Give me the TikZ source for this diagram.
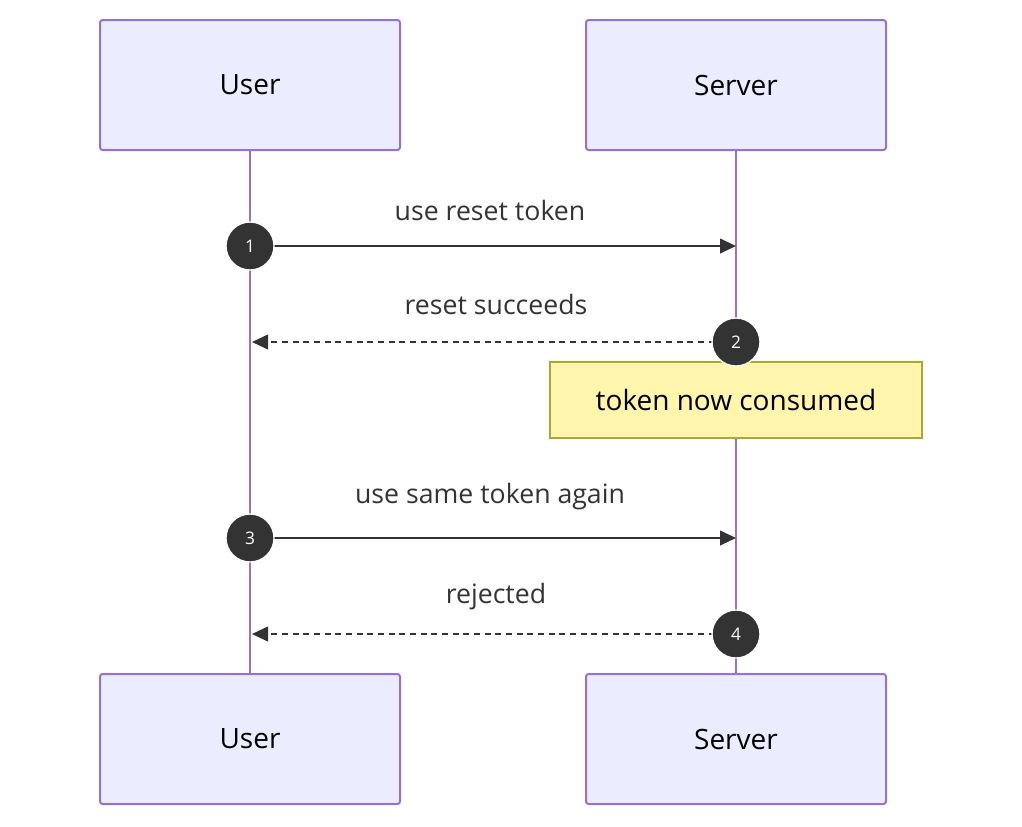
\documentclass[tikz,border=0pt]{standalone}
\usepackage{fontspec}
\setmainfont{Open Sans}
\usetikzlibrary{arrows.meta}
\definecolor{actfill}{HTML}{ECECFF}
\definecolor{actline}{HTML}{9370DB}
\definecolor{notefill}{HTML}{FFF5AD}
\definecolor{noteline}{HTML}{AAAA33}
\definecolor{dark}{HTML}{333333}
\tikzset{
 actor/.style={draw=actline,fill=actfill,line width=1.5pt,rounded corners=2pt,minimum width=225pt,minimum height=97.5pt,inner sep=0pt,font=\fontsize{21}{24}\selectfont},
 life/.style={actline,line width=2pt},
 msg/.style={dark,line width=1.5pt,-{Triangle[length=12pt,width=11pt]}},
 ret/.style={msg,dash pattern=on 4.5pt off 3.5pt},
 num/.style={circle,fill=dark,draw=white,line width=1pt,minimum size=36pt,inner sep=0pt,text=white,font=\fontsize{13}{15}\selectfont},
 lab/.style={text=dark,font=\fontsize{20}{24}\selectfont},
}
\begin{document}
\begin{tikzpicture}[x=0.75pt,y=-0.75pt]
\useasboundingbox (0,0) rectangle (1022,826);
\node[actor] (ut) at (250,85) {User};
\node[actor] (st) at (736,85) {Server};
\node[actor] (ub) at (250,739) {User};
\node[actor] (sb) at (736,739) {Server};
\draw[life] (ut.south) -- (ub.north);
\draw[life] (st.south) -- (sb.north);
\node[draw=noteline,fill=notefill,line width=1pt,minimum width=279pt,minimum height=57pt,inner sep=0pt,font=\fontsize{21}{24}\selectfont] (note) at (736,400) {token now consumed};
\coordinate (a1) at (250,246); \coordinate (b1) at (736,246);
\coordinate (a2) at (736,342); \coordinate (b2) at (252,342);
\coordinate (a3) at (250,538); \coordinate (b3) at (736,538);
\coordinate (a4) at (736,634); \coordinate (b4) at (252,634);
\draw[msg] (a1) -- (b1);
\draw[ret] (a2) -- (b2);
\draw[msg] (a3) -- (b3);
\draw[ret] (a4) -- (b4);
\node[num] (n1) at (a1) {1};
\node[num] (n2) at (a2) {2};
\node[num] (n3) at (a3) {3};
\node[num] (n4) at (a4) {4};
\node[lab] (l1) at (490,210) {use reset token};
\node[lab] (l2) at (496,304) {reset succeeds};
\node[lab] (l3) at (490,497) {use same token again};
\node[lab] (l4) at (496,597) {rejected};
\end{tikzpicture}
\end{document}
